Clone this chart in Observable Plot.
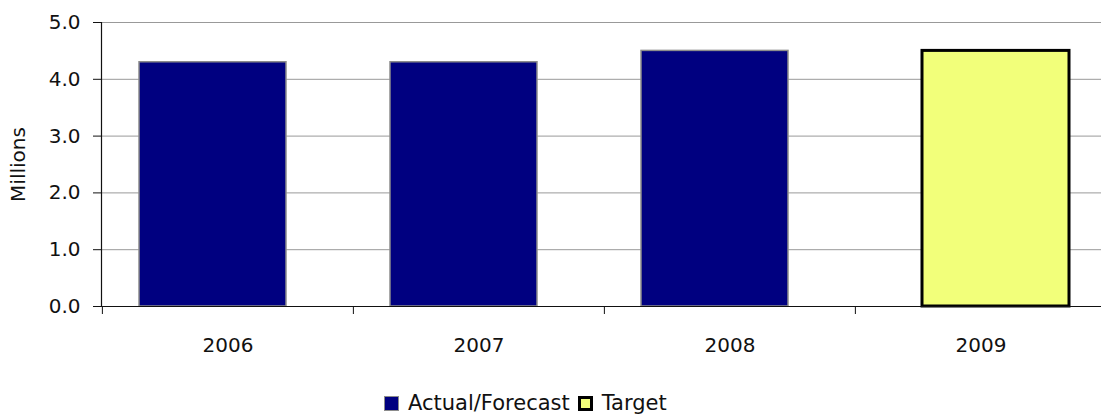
<!DOCTYPE html>
<html>
<head>
<meta charset="utf-8">
<script src="https://cdn.jsdelivr.net/npm/d3@7"></script>
<script src="https://cdn.jsdelivr.net/npm/@observablehq/plot@0.6"></script>
<style>
  html, body { margin: 0; padding: 0; background: #fff; }
  #chart svg { display: block; }
  .legend { height: 46px; box-sizing: border-box; padding-top: 20px; padding-left: 384px;
    display: flex; align-items: center; font-family: "DejaVu Sans", sans-serif; font-size: 21px; color: #111; }
  .sw { display: inline-block; width: 15px; height: 15px; margin-right: 9px; box-sizing: border-box; }
  .item { display: inline-flex; align-items: center; margin-right: 8px; }
</style>
</head>
<body>
<div id="chart"></div>
<div class="legend" id="legend"></div>
<script>
const years = ["2006", "2007", "2008", "2009"];
const actual = [4.3, 4.3, 4.5, null];
const target = [null, null, null, 4.5];
const yTicks = [0, 1, 2, 3, 4, 5];
const seriesNames = ["Actual/Forecast", "Target"];
const colors = { actualFill: "#000080", actualStroke: "#8c8c8c", targetFill: "#f2ff7a", targetStroke: "#000000" };

const actualData = years.map((year, i) => ({ year, value: actual[i] })).filter(d => d.value != null);
const targetData = years.map((year, i) => ({ year, value: target[i] })).filter(d => d.value != null);

const W = 1101, H = 370, mL = 101, mR = -5;
const step = (W - mL - mR) / years.length;

const chart = Plot.plot({
  width: W,
  height: H,
  marginLeft: mL,
  marginRight: mR,
  marginTop: 22,
  marginBottom: 64,
  style: { fontFamily: "DejaVu Sans, sans-serif", fontSize: "20px", color: "#111", background: "#fff" },
  x: { domain: years, paddingInner: 0.415, paddingOuter: 0.2075, label: null },
  y: { domain: [0, 5], label: null },
  marks: [
    Plot.gridY(yTicks.filter(d => d > 0), { stroke: "#999", strokeOpacity: 1, strokeWidth: 1 }),
    Plot.barY(actualData, { x: "year", y: "value", fill: colors.actualFill, stroke: colors.actualStroke, strokeWidth: 1.5, dx: -15 }),
    Plot.barY(targetData, { x: "year", y: "value", fill: colors.targetFill, stroke: colors.targetStroke, strokeWidth: 3, dx: 15 }),
    Plot.ruleY([0], { stroke: "#111", strokeWidth: 1.2 }),
    Plot.frame({ anchor: "left", stroke: "#111", strokeWidth: 1.2 }),
    Plot.axisY({ ticks: yTicks, tickFormat: d3.format(".1f"), tickSize: 8, tickPadding: 13, label: null, stroke: "#111" }),
    Plot.axisX({ tickSize: 8, text: null, dx: -step / 2, label: null, stroke: "#111" }),
    Plot.axisX({ tickSize: 0, tickPadding: 31, label: null }),
    Plot.text(["Millions"], { frameAnchor: "left", textAnchor: "middle", lineAnchor: "middle", rotate: -90, dx: -83, fill: "#111" })
  ]
});
document.getElementById("chart").appendChild(chart);

const legend = document.getElementById("legend");
[
  { name: seriesNames[0], fill: colors.actualFill, stroke: colors.actualStroke, bw: 1.5 },
  { name: seriesNames[1], fill: colors.targetFill, stroke: colors.targetStroke, bw: 3 }
].forEach(s => {
  const it = document.createElement("span");
  it.className = "item";
  const sw = document.createElement("span");
  sw.className = "sw";
  sw.style.background = s.fill;
  sw.style.border = s.bw + "px solid " + s.stroke;
  const t = document.createElement("span");
  t.textContent = s.name;
  it.appendChild(sw); it.appendChild(t);
  legend.appendChild(it);
});
</script>
</body>
</html>
